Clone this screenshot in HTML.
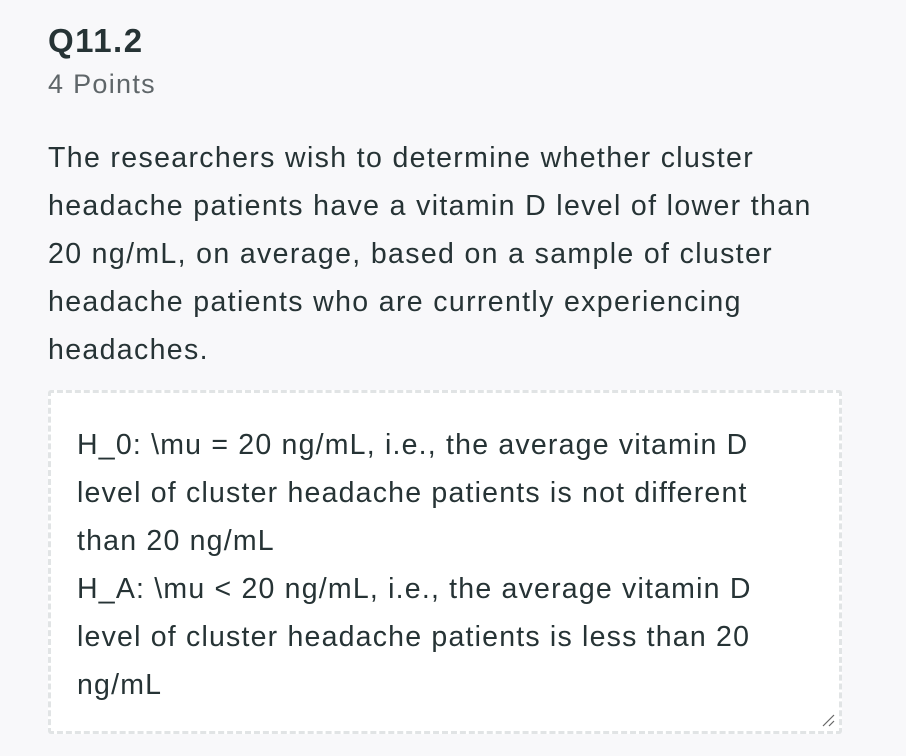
<!DOCTYPE html>
<html><head><meta charset="utf-8"><style>
html,body{margin:0;padding:0;}
body{width:906px;height:756px;background:#f8f8fa;font-family:"Liberation Sans",sans-serif;color:#263335;position:relative;overflow:hidden;}
#title{position:absolute;left:48px;top:22px;font-size:33px;font-weight:bold;letter-spacing:1.5px;}
#points{position:absolute;left:48px;top:69px;font-size:27px;color:#5f6669;letter-spacing:1.3px;}
#prompt{position:absolute;left:48px;top:134px;width:850px;font-size:28.5px;letter-spacing:1.35px;line-height:48px;white-space:nowrap;}
#box{position:absolute;left:48px;top:390px;width:788px;height:338px;border:3px dashed #e1e4e5;border-radius:3px;background:#fff;}
#answer{position:absolute;left:26px;top:28px;width:760px;font-size:28.5px;letter-spacing:1.2px;line-height:48px;white-space:nowrap;}
#grip{position:absolute;right:4px;bottom:4px;width:14px;height:14px;}
</style></head><body>
<div id="title">Q11.2</div>
<div id="points">4 Points</div>
<div id="prompt">The researchers wish to determine whether cluster<br>headache patients have a vitamin D level of lower than<br>20 ng/mL, on average, based on a sample of cluster<br>headache patients who are currently experiencing<br>headaches.</div>
<div id="box">
<div id="answer">H_0: \mu = 20 ng/mL, i.e., the average vitamin D<br>level of cluster headache patients is not different<br>than 20 ng/mL<br>H_A: \mu &lt; 20 ng/mL, i.e., the average vitamin D<br>level of cluster headache patients is less than 20<br>ng/mL</div>
<svg id="grip" viewBox="0 0 14 14"><line x1="2" y1="13" x2="13" y2="2" stroke="#666" stroke-width="1.2"/><line x1="8" y1="13" x2="13" y2="8" stroke="#666" stroke-width="1.2"/></svg>
</div>
</body></html>
